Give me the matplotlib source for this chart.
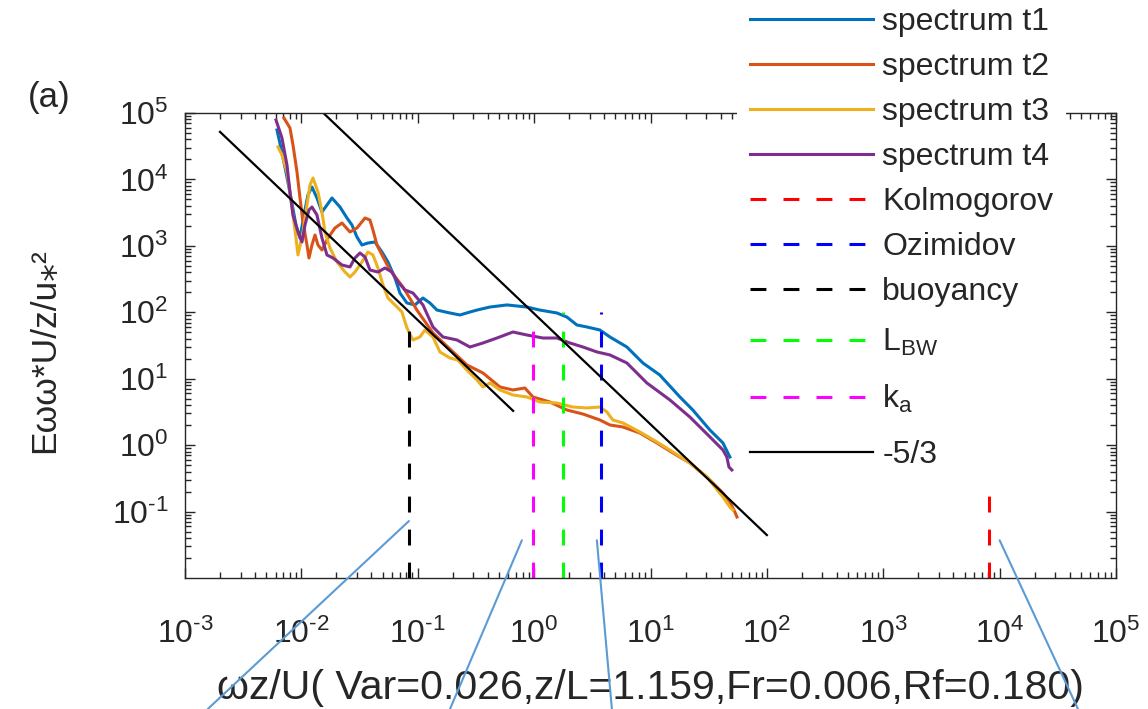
import numpy as np
import matplotlib
matplotlib.use("Agg")
import matplotlib.pyplot as plt
from matplotlib.patches import ConnectionPatch
from matplotlib.ticker import FixedLocator, LogLocator, NullFormatter, FuncFormatter

plt.rcParams['font.family'] = ['Liberation Sans', 'DejaVu Sans']
plt.rcParams['mathtext.fontset'] = 'custom'
plt.rcParams['mathtext.rm'] = 'Liberation Sans'
plt.rcParams['mathtext.it'] = 'Liberation Sans:italic'
plt.rcParams['mathtext.bf'] = 'Liberation Sans:bold'
plt.rcParams['mathtext.default'] = 'regular'

# ---- spectra (normalised frequency, normalised energy) ----
f_t1 = [6.17e-3, 6.68e-3, 7.37e-3, 8.14e-3, 8.99e-3, 9.73e-3, 1.053e-2, 1.139e-2, 1.233e-2,
        1.361e-2, 1.503e-2, 1.660e-2, 1.832e-2, 2.146e-2, 2.465e-2, 2.721e-2, 3.004e-2,
        3.316e-2, 3.734e-2, 4.289e-2, 4.926e-2, 5.546e-2, 6.370e-2, 7.032e-2, 8.076e-2,
        9.46e-2, 0.1108, 0.1273, 0.1462, 0.1891, 0.2304, 0.2809, 0.3226, 0.4172, 0.584,
        0.867, 1.12, 1.57, 1.91, 2.33, 2.84, 3.68, 4.48, 6.27, 8.60, 12.0, 17.9, 23.1,
        32.4, 41.9, 48.1]
e_t1 = [5.55e4, 2.97e4, 1.294e4, 5254, 2061, 1313, 2915, 5830, 7691, 5254, 3233, 4123,
        5254, 3846, 2627, 2061, 1359, 1030, 1104, 1143, 808, 572, 328, 195, 138, 129, 164,
        138, 108, 97.6, 91.0, 101, 108, 120, 129, 120, 108, 97.6, 84.9, 64.4, 60.1, 54.1,
        42.5, 30.0, 17.25, 11.4, 5.31, 3.38, 1.69, 1.08, 0.663]

f_t2 = [7.09e-3, 7.98e-3, 8.47e-3, 9.17e-3, 9.73e-3, 1.032e-2, 1.117e-2, 1.162e-2, 1.233e-2,
        1.309e-2, 1.389e-2, 1.503e-2, 1.693e-2, 1.944e-2, 2.233e-2, 2.616e-2, 3.004e-2,
        3.52e-2, 3.885e-2, 4.122e-2, 4.462e-2, 4.926e-2, 5.771e-2, 7.462e-2, 0.0984,
        0.1351, 0.1891, 0.2647, 0.3632, 0.5084, 0.6575, 0.8336, 0.977, 1.367, 1.913, 2.63,
        3.68, 4.48, 5.79, 8.11, 11.35, 15.6, 21.8, 30.5, 41.9, 48.1, 53.1, 55.3]
e_t2 = [8.41e4, 5.95e4, 3.30e4, 1.294e4, 5254, 2287, 1030, 657, 1030, 1457, 1030, 866,
        1313, 1858, 2209, 1617, 1858, 2627, 2451, 1733, 1030, 729, 433, 240, 108, 48.8,
        28.0, 16.1, 12.2, 7.51, 6.77, 7.25, 5.31, 4.46, 3.38, 2.94, 2.39, 2.01, 1.876,
        1.524, 1.078, 0.762, 0.539, 0.332, 0.190, 0.139, 0.0986, 0.0829]

f_t3 = [6.30e-3, 6.81e-3, 7.52e-3, 7.98e-3, 8.47e-3, 8.99e-3, 9.35e-3, 1.032e-2, 1.117e-2,
        1.186e-2, 1.258e-2, 1.389e-2, 1.503e-2, 1.595e-2, 1.761e-2, 2.022e-2, 2.370e-2,
        2.616e-2, 2.887e-2, 3.316e-2, 3.734e-2, 4.122e-2, 4.551e-2, 5.024e-2, 5.546e-2,
        6.37e-2, 7.316e-2, 8.076e-2, 9.094e-2, 0.1044, 0.1153, 0.1351, 0.1551, 0.1891,
        0.2215, 0.2647, 0.3226, 0.3632, 0.4172, 0.5084, 0.6575, 0.867, 1.12, 1.57, 2.15,
        2.84, 3.68, 4.22, 4.75, 5.79, 8.11, 11.35, 15.6, 21.8, 30.5, 41.9, 48.1, 51.0]
e_t3 = [3.08e4, 2.33e4, 1.294e4, 6468, 2915, 1313, 729, 1617, 4123, 8245, 1.051e4, 6468,
        3233, 1617, 929, 572, 404, 340, 404, 572, 808, 729, 464, 258, 164, 129, 101, 58.0,
        38.3, 42.5, 54.1, 42.5, 25.3, 20.5, 19.1, 13.5, 9.57, 7.51, 8.62, 6.77, 5.69, 5.31,
        4.46, 4.31, 3.75, 3.63, 3.75, 3.16, 2.39, 2.16, 1.578, 1.116, 0.789, 0.539, 0.332,
        0.166, 0.117, 0.1057]

f_t4 = [6.05e-3, 6.81e-3, 7.52e-3, 7.98e-3, 8.47e-3, 9.35e-3, 1.012e-2, 1.074e-2, 1.162e-2,
        1.233e-2, 1.361e-2, 1.503e-2, 1.660e-2, 1.869e-2, 2.233e-2, 2.616e-2, 2.887e-2,
        3.187e-2, 3.52e-2, 3.885e-2, 4.551e-2, 5.227e-2, 6.004e-2, 6.76e-2, 7.762e-2,
        9.094e-2, 0.1108, 0.1351, 0.1646, 0.2172, 0.2809, 0.3632, 0.4791, 0.6575, 0.867,
        1.19, 1.57, 2.03, 2.63, 3.46, 4.48, 6.27, 9.31, 14.7, 21.8, 32.4, 41.9, 45.3, 47.2,
        50.0]
e_t4 = [7.85e4, 4.21e4, 1.649e4, 6468, 2915, 1617, 1143, 2061, 3466, 3846, 2915, 1313, 729,
        657, 515, 481, 657, 781, 680, 433, 404, 464, 404, 286, 217, 195, 129, 60.1, 42.5,
        38.3, 30.0, 34.5, 41.0, 50.5, 45.5, 41.0, 41.0, 34.5, 30.0, 25.3, 22.8, 17.25, 8.62,
        4.78, 2.65, 1.33, 0.846, 0.663, 0.469, 0.423]

spec_labels = ['spectrum t1', 'spectrum t2', 'spectrum t3', 'spectrum t4']
spec_colors = ['#0072BD', '#D95319', '#EDB120', '#7E2F8E']

# ---- characteristic scales (vertical markers) ----
scale_labels = ['Kolmogorov', 'Ozimidov', 'buoyancy', 'L$_{BW}$', 'k$_a$']
scale_x = [8070, 3.75, 0.084, 1.77, 0.977]
scale_top = [0.2, 100, 54, 100, 54]
scale_bottom = 0.01
scale_colors = ['#FF0000', '#0000FF', '#000000', '#00FF00', '#FF00FF']

# ---- -5/3 reference slopes (end points) ----
ref_low_x = [0.002, 0.66]
ref_low_y = [5.2e4, 3.28]
ref_high_x = [0.015, 100]
ref_high_y = [1.05e5, 0.0443]

# ---- callout lines: start (data) and end (figure fraction along bottom edge) ----
callout_x = [0.084, 0.785, 3.46, 1.0e4]
callout_y = [0.072, 0.037, 0.037, 0.037]
callout_end = [0.181, 0.392, 0.533, 0.939]

x_label = 'ωz/U( Var=0.026,z/L=1.159,Fr=0.006,Rf=0.180)'
y_label = 'Eωω*U/z/u\u204e\u00b2'

ink = '#262626'
fs = 23


def decade_label(v, pos):
    return r'$10^{\text{%d}}$' % int(round(np.log10(v)))


fig = plt.figure(figsize=(11.48, 7.09), dpi=100)
ax = fig.add_axes([185 / 1148, 1 - 578 / 709, 931 / 1148, 465 / 709])

dash = (5.2, 5.6)
lw = 2.2
handles = []
for f, e, c, lab in zip([f_t1, f_t2, f_t3, f_t4], [e_t1, e_t2, e_t3, e_t4],
                        spec_colors, spec_labels):
    h, = ax.plot(f, e, color=c, lw=lw, label=lab, solid_joinstyle='round')
    handles.append(h)

for xv, top, c, lab in zip(scale_x, scale_top, scale_colors, scale_labels):
    h, = ax.plot([xv, xv], [scale_bottom, top], color=c, lw=lw, dashes=dash, label=lab)
    handles.append(h)

h, = ax.plot(ref_low_x, ref_low_y, color='k', lw=1.6, label='-5/3')
ax.plot(ref_high_x, ref_high_y, color='k', lw=1.6)
handles.append(h)

ax.set_xscale('log')
ax.set_yscale('log')
ax.set_xlim(1e-3, 1e5)
ax.set_ylim(1e-2, 1e5)

ax.xaxis.set_major_locator(FixedLocator(10.0 ** np.arange(-3, 6)))
ax.yaxis.set_major_locator(FixedLocator(10.0 ** np.arange(-1, 6)))
for axis in (ax.xaxis, ax.yaxis):
    axis.set_minor_locator(LogLocator(base=10, subs=np.arange(2, 10), numticks=100))
    axis.set_minor_formatter(NullFormatter())
    axis.set_major_formatter(FuncFormatter(decade_label))

ax.tick_params(which='both', direction='in', top=True, right=True, colors=ink,
               labelsize=fs, width=1.0)
ax.tick_params(which='major', length=7)
ax.tick_params(which='minor', length=4.5)
ax.tick_params(axis='x', pad=29)
ax.tick_params(axis='y', pad=12)
for s in ax.spines.values():
    s.set_color(ink)
    s.set_linewidth(1.0)

ax.set_xlabel(x_label, fontsize=29.5, color=ink)
ax.xaxis.set_label_coords(0.5, -(699 - 578) / 465)
ax.xaxis.label.set_va('baseline')
ax.set_ylabel(y_label, fontsize=25.5, color=ink)
ax.yaxis.set_label_coords(-0.133, 0.49)

leg_kw = dict(loc='upper left', bbox_transform=fig.transFigure, fontsize=fs,
              frameon=True, fancybox=False, edgecolor='none', facecolor='white',
              framealpha=1.0, borderpad=0.4, borderaxespad=0, handlelength=3.85,
              handletextpad=0.3)
leg1 = ax.legend(handles=handles[:7], bbox_to_anchor=(737 / 1148, 1 + 6 / 709),
                 labelspacing=0.47, **leg_kw)
ax.add_artist(leg1)
leg2 = ax.legend(handles=handles[7:], bbox_to_anchor=(737 / 1148, 1 - 314 / 709),
                 labelspacing=0.78, **leg_kw)
for lg in (leg1, leg2):
    for t in lg.get_texts():
        t.set_color(ink)

fig.text(49 / 1148, 1 - 97 / 709, '(a)', ha='center', va='center', fontsize=25, color=ink)

for cx, cy, ex in zip(callout_x, callout_y, callout_end):
    con = ConnectionPatch(xyA=(cx, cy), coordsA='data', axesA=ax,
                          xyB=(ex, 0.0), coordsB='figure fraction',
                          color='#5B9BD5', lw=1.5, zorder=10)
    fig.add_artist(con)

fig.savefig('out.png', dpi=100)
